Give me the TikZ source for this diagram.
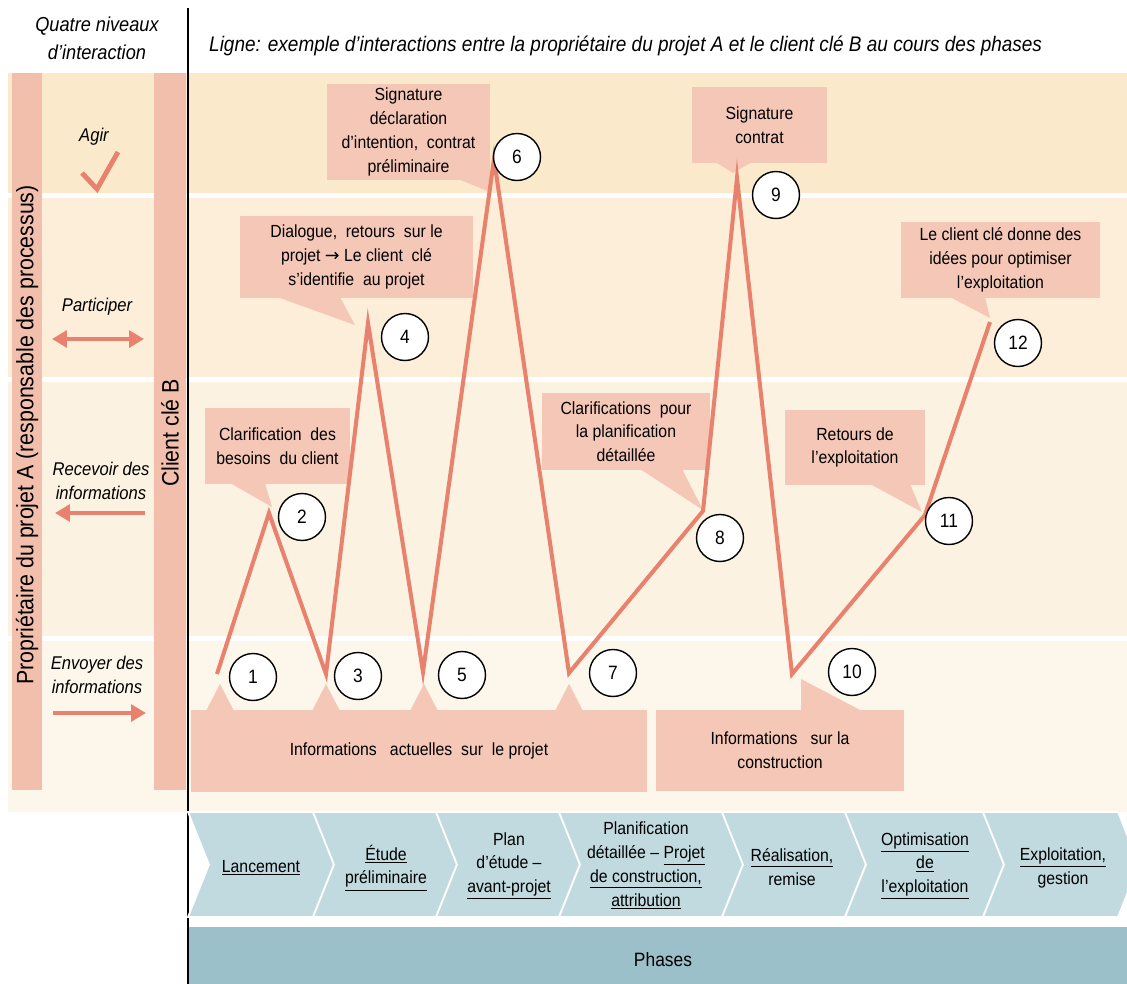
\documentclass[tikz,border=0pt]{standalone}
\usepackage{fontspec}
\setmainfont{Liberation Sans}[FakeStretch=0.9]
\newfontfamily\symbfont{DejaVu Sans}
\usetikzlibrary{arrows.meta}
\definecolor{bandA}{HTML}{FAEACB}
\definecolor{bandB}{HTML}{FCEED8}
\definecolor{bandC}{HTML}{FCF2E1}
\definecolor{bandD}{HTML}{FDF6EA}
\definecolor{barpink}{HTML}{F2BFAC}
\definecolor{callpink}{HTML}{F4C7B7}
\definecolor{zigred}{HTML}{E8826F}
\definecolor{chevblue}{HTML}{C0DADF}
\definecolor{phaseblue}{HTML}{9BC0CA}
\tikzstyle{num}=[circle,draw=black,line width=0.8pt,fill=white,minimum size=0.94cm,inner sep=0pt,font=\fontsize{11}{13}\selectfont]
\tikzstyle{callout}=[fill=callpink,inner sep=0pt,align=center,font=\fontsize{10}{13.5}\selectfont]
\tikzstyle{pointer}=[fill=callpink]
\tikzstyle{zig}=[draw=zigred,line width=2.3pt]
\tikzstyle{niveau}=[align=center,font=\fontsize{10.5}{13.5}\selectfont\itshape]
\tikzstyle{levarrow}=[draw=zigred,line width=2.8pt]
\tikzstyle{chevron}=[fill=chevblue,draw=white,line width=1pt]
\tikzstyle{phasetext}=[align=center,font=\fontsize{10}{13.5}\selectfont]
\tikzstyle{bartext}=[rotate=90,font=\fontsize{13.5}{15}\selectfont]

\begin{document}
\begin{tikzpicture}[x=0.02cm,y=-0.02cm]
\useasboundingbox (0,0) rectangle (1127,984);
% bands
\fill[bandA] (8,73) rectangle (1127,193);
\fill[bandB] (8,198) rectangle (1127,377);
\fill[bandC] (8,382) rectangle (1127,636);
\fill[bandD] (8,641) rectangle (1127,812);
\fill[barpink] (12,73) rectangle (42,790);
\fill[barpink] (154,73) rectangle (186,790);
\draw[black,line width=1pt] (188,8) -- (188,984);
% headers
\node[niveau,font=\fontsize{11.5}{16}\selectfont\itshape] at (97,38) (quatre) {Quatre niveaux\\d’interaction};
\node[anchor=west,font=\fontsize{12}{14}\selectfont\itshape] at (203,46) (titre) {Ligne: exemple d’interactions entre la propriétaire du projet A et le client clé B au cours des phases};
\node[bartext] at (27,435) (proprio) {Propriétaire du projet A (responsable des processus)};
\node[bartext] at (170,433) (client) {Client clé B};
% niveaux
\node[niveau] at (94,137) (agir) {Agir};
\draw[zigred,line width=2.8pt] (82,173) -- (97,189) -- (118,152);
\node[niveau] at (97,307) (part) {Participer};
\coordinate (partA) at (52,339);
\coordinate (partB) at (144,339);
\draw[levarrow,{Triangle[length=8.5pt,width=9.5pt]}-{Triangle[length=8.5pt,width=9.5pt]}] (partA) -- (partB);
\node[niveau] at (101,481) (recv) {Recevoir des\\informations};
\coordinate (recvA) at (145,513);
\coordinate (recvB) at (55,513);
\draw[levarrow,-{Triangle[length=8.5pt,width=9.5pt]}] (recvA) -- (recvB);
\node[niveau] at (97,675) (envo) {Envoyer des\\informations};
\coordinate (envoA) at (53,713);
\coordinate (envoB) at (146,713);
\draw[levarrow,-{Triangle[length=8.5pt,width=9.5pt]}] (envoA) -- (envoB);
% phases
\foreach \xa/\xb in {188/313, 313/436, 436/559, 559/722, 722/845, 845/983, 983/1118}
  \filldraw[chevron] (\xa,812) -- (\xb,812) -- (\xb+21,864.5) -- (\xb,917) -- (\xa,917) -- (\xa+21,864.5) -- cycle;
\fill[phaseblue] (189,927) rectangle (1127,984);
\node[phasetext] at (261,868) (ph1) {\underline{Lancement}};
\node[phasetext] at (386,868) (ph2) {\underline{Étude}\\\underline{préliminaire}};
\node[phasetext] at (509,866) (ph3) {Plan\\d’étude –\\\underline{avant-projet}};
\node[phasetext] at (646,866) (ph4) {Planification\\détaillée – \underline{Projet}\\\underline{de construction,}\\\underline{attribution}};
\node[phasetext] at (792,867) (ph5) {\underline{Réalisation,}\\remise};
\node[phasetext] at (925,866) (ph6) {\underline{Optimisation}\\\underline{de}\\\underline{l’exploitation}};
\node[phasetext] at (1063,868) (ph7) {\underline{Exploitation,}\\gestion};
\node[font=\fontsize{11}{13}\selectfont] at (663,960) (phases) {Phases};
% callouts
\node[callout,minimum width=3.26cm,minimum height=1.92cm] at (408.5,132) (sig1) {Signature\\déclaration\\d’intention,\ \ contrat\\préliminaire};
\fill[pointer] (458,179) -- (490,179) -- (490,192) -- cycle;
\node[callout,minimum width=2.7cm,minimum height=1.52cm] at (759.5,125) (sig2) {Signature\\contrat};
\fill[pointer] (715,162) -- (752,162) -- (733,173) -- cycle;
\node[callout,minimum width=4.66cm,minimum height=1.64cm] at (356.5,257) (dial) {Dialogue,\ \ retours\ \ sur le\\projet\ {\symbfont →} Le client\ \ clé\\s’identifie\ \ au projet};
\fill[pointer] (277,297) -- (340,297) -- (355,325) -- cycle;
\node[callout,minimum width=3.98cm,minimum height=1.52cm] at (1000.5,260) (idee) {Le client clé donne des\\idées pour optimiser\\l’exploitation};
\fill[pointer] (950,297) -- (985,297) -- (990,318) -- cycle;
\node[callout,minimum width=2.9cm,minimum height=1.52cm] at (277.5,446) (clar) {Clarification\ \ des\\besoins\ \ du client};
\fill[pointer] (230,483) -- (265,483) -- (272,507) -- cycle;
\node[callout,minimum width=3.36cm,minimum height=1.54cm] at (626,431.5) (clar2) {Clarifications\ \ pour\\la planification\\détaillée};
\fill[pointer] (640,469) -- (682,469) -- (703,510) -- cycle;
\node[callout,minimum width=2.8cm,minimum height=1.5cm] at (855,447.5) (ret) {Retours de\\l’exploitation};
\fill[pointer] (870,484) -- (910,484) -- (922,512) -- cycle;
\node[callout,minimum width=9.12cm,minimum height=1.64cm] at (419,751) (infa) {Informations\ \ \ actuelles\ \ sur\ \ le projet};
\foreach \xt in {220,326,424,569}
  \fill[pointer] (\xt-14,711) -- (\xt+14,711) -- (\xt,684) -- cycle;
\node[callout,minimum width=4.96cm,minimum height=1.62cm] at (780,750.5) (infc) {Informations\ \ \ sur la\\construction};
\fill[pointer] (801,711) -- (801,679) -- (862,711) -- cycle;
% ligne
\coordinate (p1) at (217,674);
\coordinate (p2) at (269,513);
\coordinate (p3) at (326,674);
\coordinate (p4) at (368,323);
\coordinate (p5) at (423,672);
\coordinate (p6) at (494,159);
\coordinate (p7) at (569,673);
\coordinate (p8) at (703,511);
\coordinate (p9) at (737,178);
\coordinate (p10) at (792,674);
\coordinate (p11) at (925,515);
\coordinate (p12) at (990,322);
\draw[zig] (p1) -- (p2) -- (p3) -- (p4) -- (p5) -- (p6) -- (p7) -- (p8) -- (p9) -- (p10) -- (p11) -- (p12);
% numeros
\node[num] at (253,677) (c1) {1};
\node[num] at (302,517) (c2) {2};
\node[num] at (358,676) (c3) {3};
\node[num] at (405,337) (c4) {4};
\node[num] at (462,675) (c5) {5};
\node[num] at (517,157) (c6) {6};
\node[num] at (613,673) (c7) {7};
\node[num] at (720,538) (c8) {8};
\node[num] at (776,195) (c9) {9};
\node[num] at (852,672) (c10) {10};
\node[num] at (949,521) (c11) {11};
\node[num] at (1018,343) (c12) {12};
\end{tikzpicture}
\end{document}
